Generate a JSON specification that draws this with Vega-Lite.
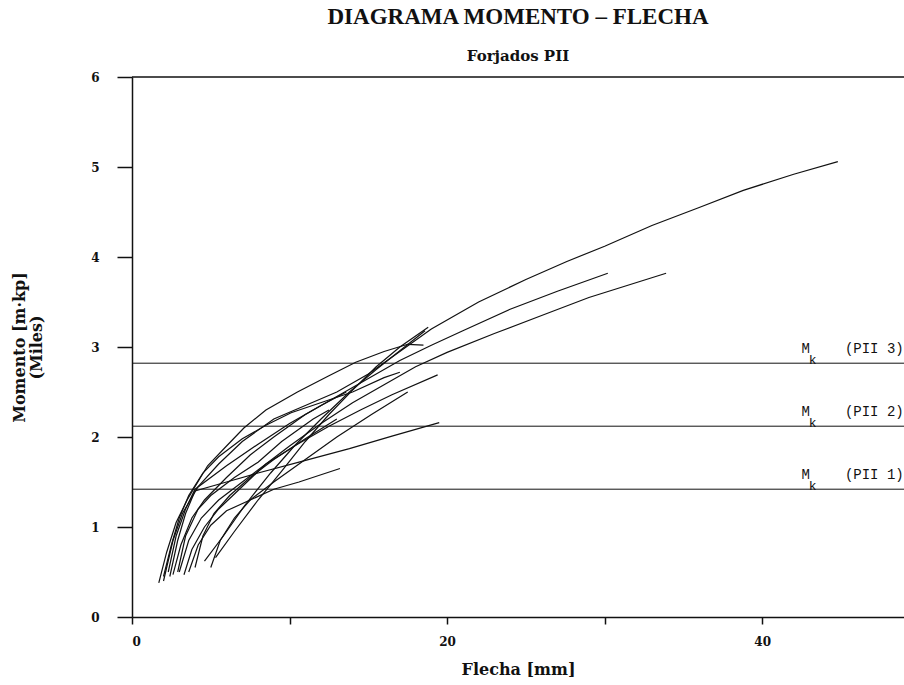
{
  "$schema": "https://vega.github.io/schema/vega-lite/v6.json",
  "width": 772,
  "height": 540,
  "autosize": {"type": "none"},
  "padding": {"left": 132, "top": 77, "right": 0, "bottom": 68},
  "background": "white",
  "title": {
    "text": "DIAGRAMA MOMENTO – FLECHA",
    "subtitle": "Forjados PII",
    "font": "Liberation Serif",
    "fontSize": 23,
    "fontWeight": "bold",
    "color": "#111",
    "subtitleFont": "DejaVu Serif",
    "subtitleFontWeight": "bold",
    "subtitleFontSize": 15,
    "subtitleColor": "#111",
    "subtitlePadding": 20,
    "anchor": "middle",
    "offset": 7
  },
  "config": {
    "view": {"stroke": null},
    "axis": {
      "grid": false,
      "domainColor": "#111",
      "domainWidth": 1.5,
      "tickColor": "#111",
      "tickWidth": 1.5,
      "labelFont": "DejaVu Serif",
      "labelFontWeight": "bold",
      "labelFontSize": 12,
      "labelColor": "#111",
      "titleFont": "DejaVu Serif",
      "titleFontWeight": "bold",
      "titleColor": "#111"
    }
  },
  "datasets": {
    "curves": [
      {"id": "c1", "x": 1.7, "y": 0.38}, {"id": "c1", "x": 2.2, "y": 0.72}, {"id": "c1", "x": 2.8, "y": 1.05}, {"id": "c1", "x": 3.5, "y": 1.3}, {"id": "c1", "x": 3.9, "y": 1.42}, {"id": "c1", "x": 4.8, "y": 1.68}, {"id": "c1", "x": 6, "y": 1.9}, {"id": "c1", "x": 7.1, "y": 2.1}, {"id": "c1", "x": 8.5, "y": 2.3}, {"id": "c1", "x": 10.5, "y": 2.5}, {"id": "c1", "x": 12.5, "y": 2.68}, {"id": "c1", "x": 14.2, "y": 2.83}, {"id": "c1", "x": 16, "y": 2.95}, {"id": "c1", "x": 17.5, "y": 3.03}, {"id": "c1", "x": 18.5, "y": 3.02},
      {"id": "c2", "x": 2.0, "y": 0.4}, {"id": "c2", "x": 2.6, "y": 0.85}, {"id": "c2", "x": 3.2, "y": 1.15}, {"id": "c2", "x": 4.2, "y": 1.45}, {"id": "c2", "x": 5.5, "y": 1.7}, {"id": "c2", "x": 7, "y": 1.95}, {"id": "c2", "x": 9, "y": 2.2}, {"id": "c2", "x": 11, "y": 2.35}, {"id": "c2", "x": 13, "y": 2.5}, {"id": "c2", "x": 15, "y": 2.7}, {"id": "c2", "x": 17, "y": 2.95}, {"id": "c2", "x": 19, "y": 3.2}, {"id": "c2", "x": 22, "y": 3.5}, {"id": "c2", "x": 25, "y": 3.75}, {"id": "c2", "x": 27.6, "y": 3.95}, {"id": "c2", "x": 30, "y": 4.12}, {"id": "c2", "x": 33, "y": 4.35}, {"id": "c2", "x": 36, "y": 4.55}, {"id": "c2", "x": 38.8, "y": 4.74}, {"id": "c2", "x": 42, "y": 4.92}, {"id": "c2", "x": 44.8, "y": 5.06},
      {"id": "c3", "x": 2.6, "y": 0.47}, {"id": "c3", "x": 3.1, "y": 0.8}, {"id": "c3", "x": 3.8, "y": 1.1}, {"id": "c3", "x": 4.6, "y": 1.3}, {"id": "c3", "x": 6, "y": 1.55}, {"id": "c3", "x": 7.5, "y": 1.8}, {"id": "c3", "x": 9, "y": 2.0}, {"id": "c3", "x": 11, "y": 2.25}, {"id": "c3", "x": 13, "y": 2.45}, {"id": "c3", "x": 15, "y": 2.65}, {"id": "c3", "x": 17, "y": 2.85}, {"id": "c3", "x": 19, "y": 3.02}, {"id": "c3", "x": 21, "y": 3.18}, {"id": "c3", "x": 24, "y": 3.42}, {"id": "c3", "x": 27, "y": 3.62}, {"id": "c3", "x": 30.2, "y": 3.82},
      {"id": "c4", "x": 3.3, "y": 0.47}, {"id": "c4", "x": 3.8, "y": 0.75}, {"id": "c4", "x": 4.6, "y": 1.0}, {"id": "c4", "x": 5.5, "y": 1.2}, {"id": "c4", "x": 7, "y": 1.45}, {"id": "c4", "x": 8.5, "y": 1.7}, {"id": "c4", "x": 10, "y": 1.9}, {"id": "c4", "x": 12, "y": 2.15}, {"id": "c4", "x": 14, "y": 2.38}, {"id": "c4", "x": 16, "y": 2.58}, {"id": "c4", "x": 18, "y": 2.78}, {"id": "c4", "x": 20, "y": 2.94}, {"id": "c4", "x": 23, "y": 3.15}, {"id": "c4", "x": 26, "y": 3.35}, {"id": "c4", "x": 29, "y": 3.55}, {"id": "c4", "x": 33.9, "y": 3.82},
      {"id": "c5", "x": 5.3, "y": 0.66}, {"id": "c5", "x": 6.5, "y": 0.95}, {"id": "c5", "x": 8, "y": 1.3}, {"id": "c5", "x": 9.5, "y": 1.62}, {"id": "c5", "x": 11, "y": 1.95}, {"id": "c5", "x": 12.5, "y": 2.25}, {"id": "c5", "x": 14, "y": 2.52}, {"id": "c5", "x": 15.5, "y": 2.78}, {"id": "c5", "x": 17, "y": 3.0}, {"id": "c5", "x": 18.8, "y": 3.22},
      {"id": "c6", "x": 4.6, "y": 0.62}, {"id": "c6", "x": 5.8, "y": 0.9}, {"id": "c6", "x": 7.2, "y": 1.25}, {"id": "c6", "x": 8.8, "y": 1.6}, {"id": "c6", "x": 10.3, "y": 1.9}, {"id": "c6", "x": 12, "y": 2.2}, {"id": "c6", "x": 13.8, "y": 2.5}, {"id": "c6", "x": 15.5, "y": 2.75}, {"id": "c6", "x": 17.3, "y": 3.0}, {"id": "c6", "x": 18.6, "y": 3.18},
      {"id": "c7", "x": 3.0, "y": 0.5}, {"id": "c7", "x": 3.6, "y": 0.85}, {"id": "c7", "x": 4.4, "y": 1.1}, {"id": "c7", "x": 5.5, "y": 1.3}, {"id": "c7", "x": 7, "y": 1.5}, {"id": "c7", "x": 8.5, "y": 1.7}, {"id": "c7", "x": 10.5, "y": 1.92}, {"id": "c7", "x": 12.5, "y": 2.12}, {"id": "c7", "x": 14.5, "y": 2.3}, {"id": "c7", "x": 16.5, "y": 2.47}, {"id": "c7", "x": 19.4, "y": 2.69},
      {"id": "c8", "x": 2.4, "y": 0.45}, {"id": "c8", "x": 2.9, "y": 0.85}, {"id": "c8", "x": 3.4, "y": 1.15}, {"id": "c8", "x": 4.0, "y": 1.4}, {"id": "c8", "x": 6, "y": 1.5}, {"id": "c8", "x": 8, "y": 1.6}, {"id": "c8", "x": 10.6, "y": 1.72}, {"id": "c8", "x": 13.8, "y": 1.87}, {"id": "c8", "x": 16.5, "y": 2.01}, {"id": "c8", "x": 19.5, "y": 2.16},
      {"id": "c9", "x": 3.6, "y": 0.5}, {"id": "c9", "x": 4.2, "y": 0.8}, {"id": "c9", "x": 5, "y": 1.02}, {"id": "c9", "x": 6, "y": 1.18}, {"id": "c9", "x": 7.5, "y": 1.3}, {"id": "c9", "x": 9, "y": 1.42}, {"id": "c9", "x": 10.6, "y": 1.5}, {"id": "c9", "x": 13.2, "y": 1.65},
      {"id": "c10", "x": 2.3, "y": 0.5}, {"id": "c10", "x": 2.8, "y": 0.9}, {"id": "c10", "x": 3.4, "y": 1.2}, {"id": "c10", "x": 4, "y": 1.42}, {"id": "c10", "x": 6, "y": 1.68}, {"id": "c10", "x": 8, "y": 1.92}, {"id": "c10", "x": 10, "y": 2.15}, {"id": "c10", "x": 12, "y": 2.35}, {"id": "c10", "x": 13.6, "y": 2.5},
      {"id": "c11", "x": 2.0, "y": 0.45}, {"id": "c11", "x": 2.5, "y": 0.8}, {"id": "c11", "x": 3, "y": 1.1}, {"id": "c11", "x": 3.6, "y": 1.35}, {"id": "c11", "x": 4.5, "y": 1.6}, {"id": "c11", "x": 5.5, "y": 1.78}, {"id": "c11", "x": 7, "y": 1.98}, {"id": "c11", "x": 8.5, "y": 2.13}, {"id": "c11", "x": 10.1, "y": 2.27}, {"id": "c11", "x": 12.3, "y": 2.4}, {"id": "c11", "x": 14, "y": 2.5}, {"id": "c11", "x": 16, "y": 2.66}, {"id": "c11", "x": 17, "y": 2.72},
      {"id": "c12", "x": 5.0, "y": 0.55}, {"id": "c12", "x": 5.6, "y": 0.85}, {"id": "c12", "x": 6.5, "y": 1.1}, {"id": "c12", "x": 7.5, "y": 1.3}, {"id": "c12", "x": 9, "y": 1.5}, {"id": "c12", "x": 11, "y": 1.75}, {"id": "c12", "x": 13, "y": 2.0}, {"id": "c12", "x": 15.2, "y": 2.25}, {"id": "c12", "x": 17.5, "y": 2.5},
      {"id": "c13", "x": 4.0, "y": 0.55}, {"id": "c13", "x": 4.5, "y": 0.9}, {"id": "c13", "x": 5.2, "y": 1.15}, {"id": "c13", "x": 6.2, "y": 1.35}, {"id": "c13", "x": 7.5, "y": 1.55}, {"id": "c13", "x": 9, "y": 1.75}, {"id": "c13", "x": 11, "y": 1.98}, {"id": "c13", "x": 13, "y": 2.2},
      {"id": "c14", "x": 2.9, "y": 0.5}, {"id": "c14", "x": 3.4, "y": 0.9}, {"id": "c14", "x": 4.2, "y": 1.2}, {"id": "c14", "x": 5, "y": 1.35}, {"id": "c14", "x": 6.5, "y": 1.55}, {"id": "c14", "x": 8, "y": 1.72}, {"id": "c14", "x": 9.5, "y": 1.95}, {"id": "c14", "x": 11.5, "y": 2.2}, {"id": "c14", "x": 12.5, "y": 2.3}
    ],
    "mk": [
      {"label": "(PII 3)", "mk": 2.82},
      {"label": "(PII 2)", "mk": 2.12},
      {"label": "(PII 1)", "mk": 1.42}
    ]
  },
  "layer": [
    {
      "data": {"name": "mk"},
      "mark": {"type": "rule", "color": "#111", "strokeWidth": 1},
      "encoding": {
        "y": {"field": "mk", "type": "quantitative", "scale": {"domain": [0, 6], "nice": false},
          "axis": {"values": [0, 1, 2, 3, 4, 5, 6], "format": "d", "tickSize": 15, "labelPadding": 18, "title": ["Momento [m·kp]", "(Miles)"], "titleFontSize": 16, "titlePadding": 46, "titleLineHeight": 17}},
        "x": {"datum": 0, "type": "quantitative", "scale": {"domain": [0, 49], "nice": false},
          "axis": {"values": [0, 10, 20, 30, 40], "tickSize": 7, "labelPadding": 12, "labelExpr": "datum.value % 20 === 0 ? datum.label : ''", "title": "Flecha [mm]", "titleFontSize": 16, "titlePadding": 14}},
        "x2": {"datum": 49}
      }
    },
    {
      "data": {"values": [{"top": 6}]},
      "mark": {"type": "rule", "color": "#111", "strokeWidth": 1.5},
      "encoding": {
        "y": {"field": "top", "type": "quantitative"},
        "x": {"datum": 0, "type": "quantitative"},
        "x2": {"datum": 49}
      }
    },
    {
      "data": {"name": "curves"},
      "mark": {"type": "line", "color": "#111", "strokeWidth": 1.2},
      "encoding": {
        "x": {"field": "x", "type": "quantitative"},
        "y": {"field": "y", "type": "quantitative"},
        "detail": {"field": "id"}
      }
    },
    {
      "data": {"name": "mk"},
      "mark": {"type": "text", "text": "M", "font": "Liberation Mono", "fontSize": 14, "align": "left", "baseline": "alphabetic", "dy": -10, "color": "#111"},
      "encoding": {
        "x": {"datum": 42.5, "type": "quantitative"},
        "y": {"field": "mk", "type": "quantitative"}
      }
    },
    {
      "data": {"name": "mk"},
      "mark": {"type": "text", "text": "k", "font": "Liberation Mono", "fontSize": 13, "align": "left", "baseline": "alphabetic", "dy": 1, "color": "#111"},
      "encoding": {
        "x": {"datum": 42.95, "type": "quantitative"},
        "y": {"field": "mk", "type": "quantitative"}
      }
    },
    {
      "data": {"name": "mk"},
      "mark": {"type": "text", "font": "Liberation Mono", "fontSize": 14, "align": "left", "baseline": "alphabetic", "dy": -10, "color": "#111"},
      "encoding": {
        "x": {"datum": 45.25, "type": "quantitative"},
        "y": {"field": "mk", "type": "quantitative"},
        "text": {"field": "label"}
      }
    }
  ]
}
